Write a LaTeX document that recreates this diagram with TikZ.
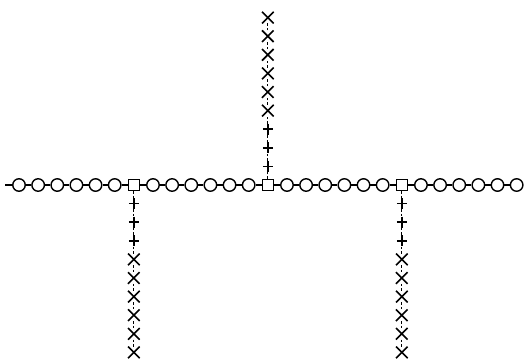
\documentclass[tikz,border=0pt]{standalone}
\usepackage{tikz}
\usetikzlibrary{shapes.misc}
\tikzset{
  bead/.style={circle, draw, line width=1.4pt, inner sep=0pt, minimum size=12.5pt},
  junction/.style={rectangle, draw, line width=1.4pt, inner sep=0pt, minimum size=11pt},
  crossmark/.style={cross out, draw, line width=1.6pt, inner sep=0pt, minimum width=10pt, minimum height=10pt},
  plusmark/.style={inner sep=0pt, minimum width=10pt, minimum height=11pt,
    path picture={\draw[line width=1.6pt] (path picture bounding box.north) -- (path picture bounding box.south)
      (path picture bounding box.west) -- (path picture bounding box.east);}},
  chain/.style={line width=1.1pt},
  branch/.style={dash pattern=on 2.5pt off 2pt, line width=0.8pt},
}

\begin{document}
\begin{tikzpicture}[x=1pt, y=-1pt]
\useasboundingbox (0,0) rectangle (526,362);

% Free end of the main chain
\coordinate (h-start) at (5,185);

% Beads along the chain, every seventh one a junction
\foreach \i in {0,...,26}{
  \pgfmathtruncatemacro{\r}{mod(\i,7)}
  \ifnum\r=6
    \node[junction] (h-\i) at ({19+19.14*\i},185) {};
  \else
    \node[bead] (h-\i) at ({19+19.14*\i},185) {};
  \fi
}

% Segments of the main chain
\draw[chain] (h-start) -- (h-0);
\foreach \i [count=\j from 1] in {0,...,25}
  \draw[chain] (h-\i) -- (h-\j);

% Side chains hanging from the junctions
\foreach \b/\n/\d in {l/6/1, u/13/-1, r/20/1}{
  \foreach \k in {1,...,9}{
    \ifnum\k<4
      \node[plusmark] (\b-\k) at ({19+19.14*\n},{185+\d*18.6*\k}) {};
    \else
      \node[crossmark] (\b-\k) at ({19+19.14*\n},{185+\d*18.6*\k}) {};
    \fi
  }
  \draw[branch] (h-\n) -- (\b-1);
  \foreach \k [count=\m from 2] in {1,...,8}
    \draw[branch] (\b-\k) -- (\b-\m);
}
\end{tikzpicture}
\end{document}
